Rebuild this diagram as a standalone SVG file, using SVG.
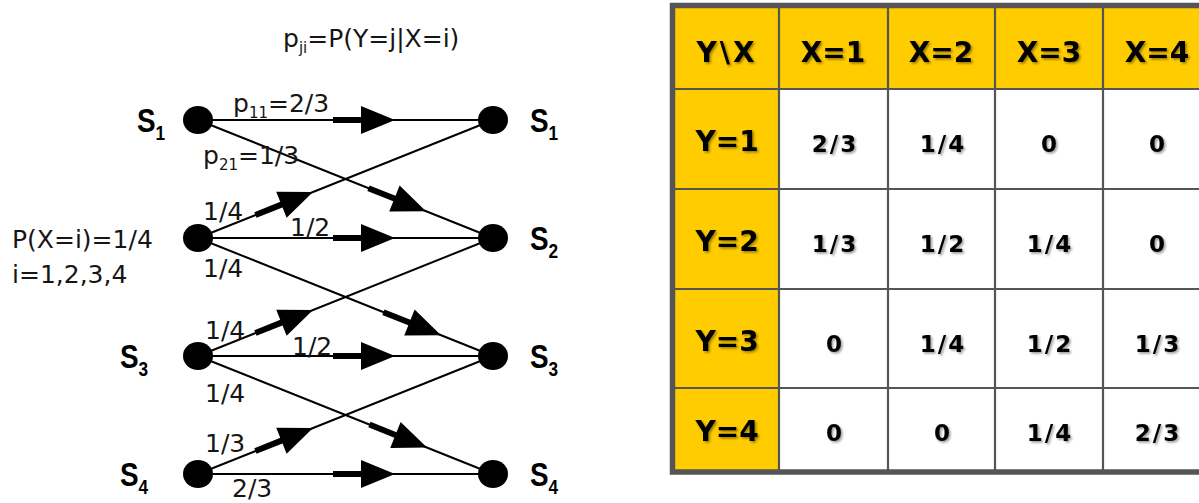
<svg xmlns="http://www.w3.org/2000/svg" xmlns:xlink="http://www.w3.org/1999/xlink" width="1199" height="503" viewBox="0 0 1199 503">
  <style>
    .lbl { font-family: "DejaVu Sans", "Liberation Sans", sans-serif; font-size: 25px; fill: #151515; }
    .sub { font-size: 15px; }
    .state { font-family: "Liberation Sans", Arial, sans-serif; font-weight: bold; font-size: 34px; fill: #000; }
    .ssub { font-size: 21px; }
    .edge { stroke: #000; stroke-width: 2; fill: none; }
    .node { fill: #000; }
    .grid { stroke: #555; stroke-width: 2.2; fill: none; }
    .frame { stroke: #555; stroke-width: 5.5; fill: none; }
    .hdr { font-family: "DejaVu Sans", Verdana, sans-serif; font-weight: bold; font-size: 28px; fill: #000; text-anchor: middle; filter: url(#tshadow); }
    .val { font-family: "DejaVu Sans", Verdana, sans-serif; font-weight: bold; font-size: 23px; letter-spacing: 2px; fill: #000; text-anchor: middle; filter: url(#tshadow); }
  </style>
  <defs>
    <filter id="tshadow" x="-20%" y="-30%" width="150%" height="170%">
      <feDropShadow dx="1.6" dy="1.6" stdDeviation="0.9" flood-color="#000" flood-opacity="0.4"/>
    </filter>
    <!-- direction mark: thick lead-in bar plus solid triangle, tip at origin, pointing +x -->
    <g id="flow">
      <line x1="-62" y1="0" x2="-30" y2="0" stroke="#000" stroke-width="6"/>
      <polygon points="0,0 -34,-14 -34,14" fill="#000"/>
    </g>
  </defs>

  <rect x="0" y="0" width="1199" height="503" fill="#fff"/>

  <!-- formula for transition probability -->
  <text class="lbl" x="283" y="47">p<tspan class="sub" dy="6">ji</tspan><tspan dy="-6">=P(Y=j|X=i)</tspan></text>

  <!-- channel transitions -->
  <g id="connectors">
    <line class="edge" x1="198" y1="120" x2="493" y2="120"/>
    <line class="edge" x1="198" y1="120" x2="493" y2="238"/>
    <line class="edge" x1="198" y1="238" x2="493" y2="120"/>
    <line class="edge" x1="198" y1="238" x2="493" y2="238"/>
    <line class="edge" x1="198" y1="238" x2="493" y2="356"/>
    <line class="edge" x1="198" y1="356" x2="493" y2="238"/>
    <line class="edge" x1="198" y1="356" x2="493" y2="356"/>
    <line class="edge" x1="198" y1="356" x2="493" y2="474"/>
    <line class="edge" x1="198" y1="474" x2="493" y2="356"/>
    <line class="edge" x1="198" y1="474" x2="493" y2="474"/>

    <use xlink:href="#flow" transform="translate(395,120)"/>
    <use xlink:href="#flow" transform="translate(395,238)"/>
    <use xlink:href="#flow" transform="translate(395,356)"/>
    <use xlink:href="#flow" transform="translate(395,474)"/>

    <use xlink:href="#flow" transform="translate(426,211.2) rotate(21.8)"/>
    <use xlink:href="#flow" transform="translate(441,335.2) rotate(21.8)"/>
    <use xlink:href="#flow" transform="translate(427,447.6) rotate(21.8)"/>

    <use xlink:href="#flow" transform="translate(313,192) rotate(-21.8)"/>
    <use xlink:href="#flow" transform="translate(313,310) rotate(-21.8)"/>
    <use xlink:href="#flow" transform="translate(313,428) rotate(-21.8)"/>

    <!-- transition labels -->
    <text class="lbl" x="233" y="112">p<tspan class="sub" dy="6">11</tspan><tspan dy="-6">=2/3</tspan></text>
    <text class="lbl" x="203" y="164">p<tspan class="sub" dy="6">21</tspan><tspan dy="-6">=1/3</tspan></text>
    <text class="lbl" x="203" y="220">1/4</text>
    <text class="lbl" x="290" y="236">1/2</text>
    <text class="lbl" x="203" y="277">1/4</text>
    <text class="lbl" x="205" y="339">1/4</text>
    <text class="lbl" x="292" y="355">1/2</text>
    <text class="lbl" x="205" y="402">1/4</text>
    <text class="lbl" x="205" y="452">1/3</text>
    <text class="lbl" x="232" y="497">2/3</text>
  </g>

  <!-- input distribution -->
  <text class="lbl" x="12" y="248">P(X=i)=1/4</text>
  <text class="lbl" x="12" y="283">i=1,2,3,4</text>

  <!-- input symbols -->
  <g id="x1">
    <ellipse class="node" cx="198" cy="120" rx="15" ry="14"/>
    <text class="state" transform="translate(137,132) scale(0.82,1)">S<tspan class="ssub" dy="8">1</tspan></text>
  </g>
  <g id="x2">
    <ellipse class="node" cx="198" cy="238" rx="15" ry="14"/>
  </g>
  <g id="x3">
    <ellipse class="node" cx="198" cy="356" rx="15" ry="14"/>
    <text class="state" transform="translate(120,368) scale(0.82,1)">S<tspan class="ssub" dy="8">3</tspan></text>
  </g>
  <g id="x4">
    <ellipse class="node" cx="198" cy="474" rx="15" ry="14"/>
    <text class="state" transform="translate(120,486) scale(0.82,1)">S<tspan class="ssub" dy="8">4</tspan></text>
  </g>

  <!-- output symbols -->
  <g id="y1">
    <ellipse class="node" cx="493" cy="120" rx="15" ry="14"/>
    <text class="state" transform="translate(530,132) scale(0.82,1)">S<tspan class="ssub" dy="8">1</tspan></text>
  </g>
  <g id="y2">
    <ellipse class="node" cx="493" cy="238" rx="15" ry="14"/>
    <text class="state" transform="translate(530,250) scale(0.82,1)">S<tspan class="ssub" dy="8">2</tspan></text>
  </g>
  <g id="y3">
    <ellipse class="node" cx="493" cy="356" rx="15" ry="14"/>
    <text class="state" transform="translate(530,368) scale(0.82,1)">S<tspan class="ssub" dy="8">3</tspan></text>
  </g>
  <g id="y4">
    <ellipse class="node" cx="493" cy="474" rx="15" ry="14"/>
    <text class="state" transform="translate(530,486) scale(0.82,1)">S<tspan class="ssub" dy="8">4</tspan></text>
  </g>

  <!-- transition matrix -->
  <g id="matrix">
    <rect x="672" y="5" width="545" height="84" fill="#ffcc00"/>
    <rect x="672" y="89" width="107" height="383" fill="#ffcc00"/>
    <line class="grid" x1="779" y1="5" x2="779" y2="472"/>
    <line class="grid" x1="888" y1="5" x2="888" y2="472"/>
    <line class="grid" x1="995" y1="5" x2="995" y2="472"/>
    <line class="grid" x1="1103" y1="5" x2="1103" y2="472"/>
    <line class="grid" x1="672" y1="89" x2="1217" y2="89"/>
    <line class="grid" x1="672" y1="189" x2="1217" y2="189"/>
    <line class="grid" x1="672" y1="289" x2="1217" y2="289"/>
    <line class="grid" x1="672" y1="388" x2="1217" y2="388"/>
    <rect class="frame" x="672.5" y="5.5" width="545" height="466.5"/>

    <text class="hdr" x="727" y="62" letter-spacing="3">Y\X</text>
    <text class="hdr" x="833" y="62">X=1</text>
    <text class="hdr" x="941" y="62">X=2</text>
    <text class="hdr" x="1049" y="62">X=3</text>
    <text class="hdr" x="1157" y="62">X=4</text>

    <text class="hdr" x="727" y="151">Y=1</text>
    <text class="hdr" x="727" y="251">Y=2</text>
    <text class="hdr" x="727" y="351">Y=3</text>
    <text class="hdr" x="727" y="441">Y=4</text>

    <text class="val" x="835" y="152">2/3</text>
    <text class="val" x="943" y="152">1/4</text>
    <text class="val" x="1050" y="152">0</text>
    <text class="val" x="1158" y="152">0</text>

    <text class="val" x="835" y="252">1/3</text>
    <text class="val" x="943" y="252">1/2</text>
    <text class="val" x="1050" y="252">1/4</text>
    <text class="val" x="1158" y="252">0</text>

    <text class="val" x="835" y="352">0</text>
    <text class="val" x="943" y="352">1/4</text>
    <text class="val" x="1050" y="352">1/2</text>
    <text class="val" x="1158" y="352">1/3</text>

    <text class="val" x="835" y="441">0</text>
    <text class="val" x="943" y="441">0</text>
    <text class="val" x="1050" y="441">1/4</text>
    <text class="val" x="1158" y="441">2/3</text>
  </g>
</svg>
